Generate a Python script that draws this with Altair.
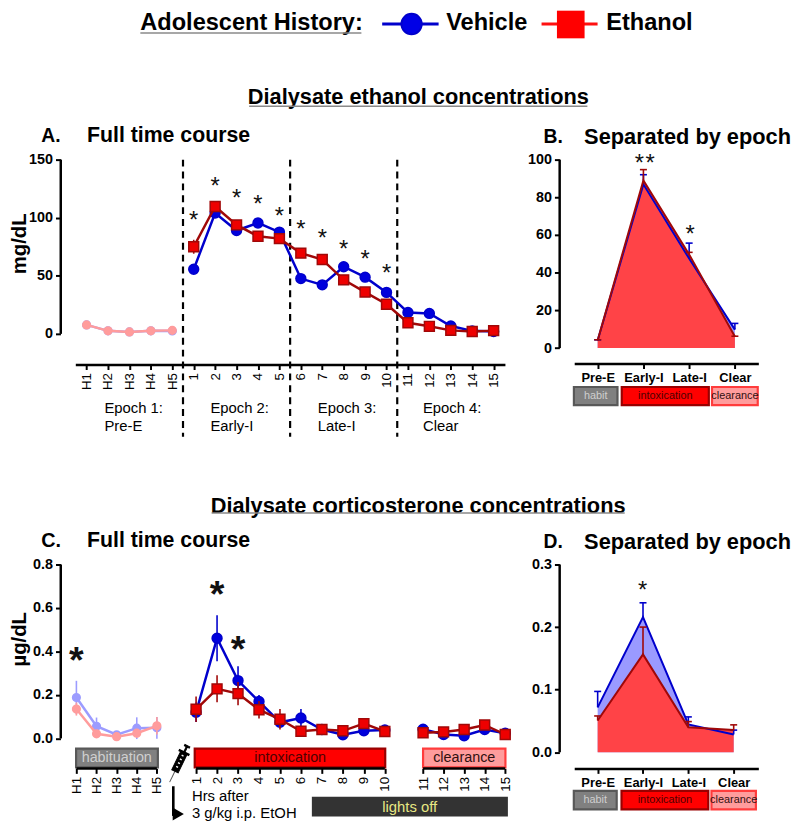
import json
import altair as alt
import pandas as pd

FONT = "Liberation Sans"
BLUE = "#0000CC"
DARKRED = "#A00808"
RED = "#EE0000"
PALE_BLUE = "#9C9CFF"
PALE_RED = "#FF9C9C"

# ---------- data ----------
full_labels = ["H1", "H2", "H3", "H4", "H5"] + [str(i) for i in range(1, 16)]
epoch_labels = ["Pre-E", "Early-I", "Late-I", "Clear"]

a_vehicle = [7.7, 2.6, 1.7, 2.6, 2.5, 55.6, 104, 89, 95.5, 87.6, 47.6, 42.2, 57.8, 48.8, 35.7, 18.4, 17.6, 6.8, 2.6, 2.0]
a_ethanol = [7.7, 2.6, 1.7, 2.6, 3.0, 75, 109.7, 93.8, 84, 82, 69.5, 64, 46.5, 36, 25.5, 9.6, 6.5, 3, 2, 2.8]
a_eth_err = [0, 0, 0, 0, 0, 6, 2, 2, 2, 2, 2, 2, 2, 2, 2, 1, 1, 1, 1, 1]
a_star_x = [5, 6, 7, 8, 9, 10, 11, 12, 13, 14]
a_star_y = [100.4, 130, 119.6, 114, 104, 92.7, 84.8, 75.7, 66.6, 55.3]
a_dividers = [4.5, 9.5, 14.5]
epoch_x = [0.83, 5.78, 10.79, 15.7]
epoch_line1 = ["Epoch 1:", "Epoch 2:", "Epoch 3:", "Epoch 4:"]
epoch_line2 = ["Pre-E", "Early-I", "Late-I", "Clear"]

b_vehicle = [4.2, 86.9, 47.5, 9.8]
b_vehicle_hi = [4.4, 92, 55.7, 13.1]
b_ethanol = [4.2, 89, 49.6, 6.1]
b_ethanol_hi = [4.4, 94.7, 50.8, 6.3]
b_star_x = [0.91, 1.147, 2.02]
b_star_y = [99.5, 99.5, 62.3]

c_vehicle = [0.188, 0.056, 0.017, 0.047, 0.049, 0.12, 0.461, 0.266, 0.17, 0.074, 0.094, 0.041, 0.017, 0.035, 0.039, 0.0425, 0.018, 0.012, 0.041, 0.024]
c_veh_err = [0.077, 0.04, 0.01, 0.05, 0.05, 0.045, 0.106, 0.066, 0.03, 0.02, 0.041, 0.01, 0.01, 0.01, 0.01, 0.01, 0.01, 0.01, 0.01, 0.01]
c_ethanol = [0.135, 0.021, 0.008, 0.024, 0.058, 0.134, 0.228, 0.206, 0.132, 0.088, 0.033, 0.041, 0.035, 0.068, 0.032, 0.026, 0.03, 0.041, 0.062, 0.018]
c_eth_err = [0.03, 0.01, 0.005, 0.02, 0.04, 0.059, 0.062, 0.054, 0.04, 0.047, 0.02, 0.01, 0.01, 0.015, 0.01, 0.01, 0.01, 0.01, 0.01, 0.01]
c_star_x = [0, 6, 7]
c_star_y = [0.378, 0.681, 0.4266]
c_segments_a = [0, 5, 15]
c_segments_b = [4, 14, 19]

d_vehicle = [0.0718, 0.216, 0.0444, 0.0285]
d_vehicle_hi = [0.0972, 0.2388, 0.0565, 0.0354]
d_ethanol = [0.0507, 0.1564, 0.040, 0.0354]
d_ethanol_hi = [0.058, 0.2, 0.049, 0.0438]
d_star_x = [0.99]
d_star_y = [0.2636]

band_names = ["habit", "intoxication", "clearance"]
b_band_a = [-0.52, 0.526, 2.50]
b_band_b = [0.433, 2.43, 3.50]
d_band_a = [-0.526, 0.526, 2.51]
d_band_b = [0.42, 2.44, 3.49]
c_band_names = ["habituation", "intoxication", "clearance"]
c_band_a = [-0.015, 4.965, 15.0]
c_band_b = [4.025, 14.01, 19.01]
lights_a = [10.52]
lights_b = [19.13]

BAND_STYLE = [
    {"fill": "#808080", "stroke": "#585858", "text": "#CFCFCF"},
    {"fill": "#FF0000", "stroke": "#990000", "text": "#4E0000"},
    {"fill": "#FF9C9C", "stroke": "#FF3C3C", "text": "#301010"},
]


# ---------- helpers ----------
def note(text, x, y, size, weight="normal", color="black", align="left", angle=0):
    return (
        alt.Chart(alt.Data(values=[{"t": text}]))
        .mark_text(font=FONT, fontSize=size, fontWeight=weight, color=color, align=align,
                   baseline="middle", angle=angle)
        .encode(text="t:N", x=alt.value(x), y=alt.value(y))
    )


def underline(x1, x2, y):
    return (
        alt.Chart(alt.Data(values=[{"t": 1}]))
        .mark_rule(color="#8A8A8A", strokeWidth=1.6)
        .encode(x=alt.value(x1), x2=alt.value(x2), y=alt.value(y))
    )


def axis_y(vals, title=None, fmt=None, size=14.5, offset=15, **kw):
    args = dict(values=vals, domain=False, grid=False, offset=offset, tickSize=5, tickWidth=2,
                tickColor="black", labelFontSize=size, labelFontWeight="bold", labelColor="black",
                labelPadding=3, labelFont=FONT, title=title)
    if fmt:
        args["format"] = fmt
    args.update(kw)
    return alt.Axis(**args)


def axis_x_full(labels, **kw):
    return alt.Axis(values=list(range(len(labels))), labelExpr=f"{json.dumps(labels)}[datum.value]",
                    labelAngle=270, labelAlign="right", labelBaseline="middle", labelFontSize=13.5,
                    labelColor="black", labelFont=FONT, labelPadding=3, tickSize=5, tickWidth=2,
                    tickColor="black", grid=False, title=None, labelOverlap=False, labelFlush=False, **kw)


def axis_x_epoch():
    return alt.Axis(values=[0, 1, 2, 3], labelExpr=f"{json.dumps(epoch_labels)}[datum.value]",
                    labelAngle=0, labelFontSize=13, labelFontWeight="bold", labelColor="black",
                    labelFont=FONT, labelPadding=3, tickSize=5, tickWidth=2, tickColor="black",
                    domainColor="black", domainWidth=2.5, grid=False, title=None, labelOverlap=False,
                    labelFlush=False)


def series_frame(x, v, err=None):
    df = pd.DataFrame({"x": x, "v": v})
    if err is not None:
        df["lo"] = [a - b for a, b in zip(v, err)]
        df["hi"] = [a + b for a, b in zip(v, err)]
    return df


def trace(df, X, Y_sc, line, fill, stroke, shape, size, width=2.5, groups=None):
    Y = alt.Y("v:Q", scale=Y_sc, axis=None)
    enc = {"x": X, "y": Y}
    if groups is not None:
        enc["detail"] = groups
    out = []
    if "lo" in df:
        out.append(alt.Chart(df).mark_rule(color=line, strokeWidth=1.6).encode(
            x=X, y=alt.Y("lo:Q", scale=Y_sc, axis=None), y2=alt.Y2("hi:Q")))
    out.append(alt.Chart(df).mark_line(color=line, strokeWidth=width).encode(**enc))
    out.append(alt.Chart(df).mark_point(shape=shape, size=size, filled=True, fill=fill, stroke=stroke,
                                        strokeWidth=1.5, opacity=1).encode(x=X, y=Y))
    return out


def stars(xs, ys, X_sc, Y_sc, size, dy, weight="normal"):
    df = pd.DataFrame({"x": xs, "v": ys})
    return alt.Chart(df).mark_text(text="*", font=FONT, fontSize=size, fontWeight=weight, dy=dy,
                                   color="#111111", baseline="alphabetic").encode(
        x=alt.X("x:Q", scale=X_sc, axis=None), y=alt.Y("v:Q", scale=Y_sc, axis=None))


def axis_rule(lo, hi, Y_sc, xpos):
    df = pd.DataFrame({"lo": [lo], "hi": [hi]})
    return alt.Chart(df).mark_rule(color="black", strokeWidth=2.5).encode(
        x=alt.value(xpos), y=alt.Y("lo:Q", scale=Y_sc, axis=None), y2=alt.Y2("hi:Q"))


def bands(names, starts, ends, X_sc, y1, y2, size, stroke_width=2.2):
    out = []
    for n, a, b, st in zip(names, starts, ends, BAND_STYLE):
        df = pd.DataFrame({"a": [a], "b": [b], "m": [(a + b) / 2], "n": [n]})
        out.append(alt.Chart(df).mark_rect(fill=st["fill"], stroke=st["stroke"], strokeWidth=stroke_width).encode(
            x=alt.X("a:Q", scale=X_sc, axis=None), x2=alt.X2("b:Q"), y=alt.value(y1), y2=alt.value(y2)))
        out.append(alt.Chart(df).mark_text(font=FONT, fontSize=size, color=st["text"]).encode(
            x=alt.X("m:Q", scale=X_sc, axis=None), y=alt.value((y1 + y2) / 2), text="n:N"))
    return out


def epoch_panel(veh, veh_hi, eth, eth_hi, X_sc, Y_sc, y_axis, ylo, yhi, star_x, star_y, names, a, b, y1, y2, letter, title_y):
    X_first = alt.X("x:Q", scale=X_sc, axis=axis_x_epoch())
    X = alt.X("x:Q", scale=X_sc, axis=None)
    Y_first = alt.Y("v:Q", scale=Y_sc, axis=y_axis)
    Y = alt.Y("v:Q", scale=Y_sc, axis=None)
    base_df = pd.DataFrame({"x": [0, 1, 2, 3], "v": veh, "z": [0, 0, 0, 0]})
    base_de = pd.DataFrame({"x": [0, 1, 2, 3], "v": eth, "z": [0, 0, 0, 0]})
    layers = [
        alt.Chart(base_df).mark_area(color="#9A9AFF", opacity=1).encode(x=X_first, y=Y_first, y2=alt.Y2("z:Q")),
        alt.Chart(base_de).mark_area(color="#FF4347", opacity=1).encode(x=X, y=Y, y2=alt.Y2("z:Q")),
        axis_rule(ylo, yhi, Y_sc, -14.7),
    ]
    for v, hi, col in ((veh, veh_hi, BLUE), (eth, eth_hi, DARKRED)):
        df = pd.DataFrame({"x": [0, 1, 2, 3], "v": v, "hi": hi})
        layers.append(alt.Chart(df).mark_rule(color=col, strokeWidth=1.6).encode(x=X, y=Y, y2=alt.Y2("hi:Q")))
        layers.append(alt.Chart(df).mark_point(shape="stroke", size=50, color=col, strokeWidth=1.6, opacity=1).encode(
            x=X, y=alt.Y("hi:Q", scale=Y_sc, axis=None)))
        layers.append(alt.Chart(df).mark_line(color=col, strokeWidth=2).encode(x=X, y=Y))
    layers.append(stars(star_x, star_y, X_sc, Y_sc, 24, 11))
    layers += bands(names, a, b, X_sc, y1, y2, 11)
    layers.append(note(letter, -31, title_y, 19.5, "bold"))
    layers.append(note("Separated by epoch", 10, title_y, 22, "bold"))
    return alt.layer(*layers).resolve_axis(x="independent", y="independent").properties(width=186, height=206)


# ---------- panel A ----------
XA = alt.Scale(domain=[-0.527, 19.527], nice=False, zero=False)
YA = alt.Scale(domain=[-26.4, 150], nice=False, zero=False)
X_A0 = alt.X("x:Q", scale=XA, axis=axis_x_full(full_labels, domainColor="black", domainWidth=2.5))
X_A = alt.X("x:Q", scale=XA, axis=None)
Y_A0 = alt.Y("v:Q", scale=YA, axis=axis_y([0, 50, 100, 150], title="mg/dL", titleFontSize=20.5, titleFontWeight="bold",
                                          titleFont=FONT, titleColor="black", titleX=-41, titleY=84.5,
                                          titleAngle=270, titleAlign="center", titleBaseline="middle"))

idx = list(range(20))
a_veh_df = series_frame(idx, a_vehicle)
a_eth_df = series_frame(idx, a_ethanol, err=a_eth_err)

div_df = pd.DataFrame({"x": a_dividers})
ep_df = pd.DataFrame({"x": epoch_x, "l1": epoch_line1, "l2": epoch_line2})

a_layers = [
    alt.Chart(a_veh_df).mark_point(opacity=0).encode(x=X_A0, y=Y_A0),
    axis_rule(0, 150, YA, -14.7),
    alt.Chart(div_df).mark_rule(color="black", strokeWidth=2.2, strokeDash=[7, 5]).encode(
        x=X_A, y=alt.value(0), y2=alt.value(280)),
]
a_layers += trace(a_veh_df.iloc[:5], X_A, YA, PALE_BLUE, PALE_BLUE, PALE_BLUE, "circle", 60)
a_layers += trace(a_eth_df.iloc[:5].drop(columns=["lo", "hi"]), X_A, YA, PALE_RED, PALE_RED, PALE_RED, "circle", 60)
a_layers += trace(a_veh_df.iloc[5:], X_A, YA, BLUE, "#0000DD", BLUE, "circle", 100)
a_layers += trace(a_eth_df.iloc[5:], X_A, YA, DARKRED, RED, DARKRED, "square", 100)
a_layers.append(stars(a_star_x, a_star_y, XA, YA, 24, 11))
a_layers.append(alt.Chart(ep_df).mark_text(font=FONT, fontSize=15, align="left").encode(
    x=X_A, y=alt.value(251), text="l1:N"))
a_layers.append(alt.Chart(ep_df).mark_text(font=FONT, fontSize=15, align="left").encode(
    x=X_A, y=alt.value(269), text="l2:N"))

# header, legend and section title live above panel A
ox, oy = 75, 158
a_layers += [
    note("Adolescent History:", 140.7 - ox, 20 - oy, 23.8, "bold"),
    underline(140.7 - ox, 364 - ox, 30 - oy),
    alt.Chart(alt.Data(values=[{"t": 1}])).mark_rule(color=BLUE, strokeWidth=3).encode(
        x=alt.value(385 - ox), x2=alt.value(442 - ox), y=alt.value(21 - oy)),
    alt.Chart(alt.Data(values=[{"t": 1}])).mark_point(shape="circle", size=420, filled=True, fill="#0000E6", stroke=BLUE, opacity=1).encode(
        x=alt.value(414.7 - ox), y=alt.value(21 - oy)),
    note("Vehicle", 449.6 - ox, 20 - oy, 23.8, "bold"),
    alt.Chart(alt.Data(values=[{"t": 1}])).mark_rule(color="#FF1010", strokeWidth=3).encode(
        x=alt.value(546 - ox), x2=alt.value(602.6 - ox), y=alt.value(21 - oy)),
    alt.Chart(alt.Data(values=[{"t": 1}])).mark_point(shape="square", size=780, filled=True, fill="#FF0000", opacity=1, strokeWidth=0).encode(
        x=alt.value(575.5 - ox), y=alt.value(21.5 - oy)),
    note("Ethanol", 611.4 - ox, 20 - oy, 23.8, "bold"),
    note("Dialysate ethanol concentrations", 421.5 - ox, 95 - oy, 22, "bold", align="center"),
    underline(250.6 - ox, 592.3 - ox, 104 - oy),
    note("A.", 40.6 - ox, 134 - oy, 19.5, "bold"),
    note("Full time course", 86.8 - ox, 134 - oy, 21.5, "bold"),
]
panel_a = alt.layer(*a_layers).resolve_axis(x="independent", y="independent").properties(width=434, height=207)

# ---------- panel B ----------
XB = alt.Scale(domain=[-0.513, 3.513], nice=False, zero=False)
YB = alt.Scale(domain=[-8.2, 100], nice=False, zero=False)
panel_b = epoch_panel(b_vehicle, b_vehicle_hi, b_ethanol, b_ethanol_hi, XB, YB,
                      axis_y([0, 20, 40, 60, 80, 100]), 0, 100, b_star_x, b_star_y,
                      band_names, b_band_a, b_band_b, 229.7, 248, "B.", -23)

# ---------- panel C ----------
XC = alt.Scale(domain=[0, 4, 5, 14, 15, 19], range=[1.1, 82.4, 122, 312.7, 351.3, 434.3], nice=False, zero=False)
YC = alt.Scale(domain=[-0.138, 0.8], nice=False, zero=False)
X_C0 = alt.X("x:Q", scale=XC, axis=axis_x_full(full_labels, domain=False))
X_C = alt.X("x:Q", scale=XC, axis=None)
Y_C0 = alt.Y("v:Q", scale=YC, axis=axis_y([0, 0.2, 0.4, 0.6, 0.8], fmt=".1f", title="µg/dL", titleFontSize=20.5, titleFontWeight="bold",
                                          titleFont=FONT, titleColor="black", titleX=-41, titleY=75,
                                          titleAngle=270, titleAlign="center", titleBaseline="middle"))

c_group = [0] * 5 + [1] * 10 + [2] * 5
c_veh = series_frame(idx, c_vehicle, err=c_veh_err)
c_eth = series_frame(idx, c_ethanol, err=c_eth_err)
c_veh["g"] = c_group
c_eth["g"] = c_group
seg_df = pd.DataFrame({"a": c_segments_a, "b": c_segments_b})
lights_df = pd.DataFrame({"a": lights_a, "b": lights_b, "n": ["lights off"], "m": [14.65]})

SYRINGE_BODY = "M-0.17,-0.6 L0.17,-0.6 L0.17,0.42 L-0.17,0.42 Z M-0.03,-0.6 L0.03,-0.6 L0.03,-0.92 L-0.03,-0.92 Z M-0.13,-0.95 L0.13,-0.95 L0.13,-0.88 L-0.13,-0.88 Z M-0.26,-0.62 L0.26,-0.62 L0.26,-0.55 L-0.26,-0.55 Z"
SYRINGE_WHITE = "M-0.05,-0.42 L0.05,-0.42 M-0.05,-0.22 L0.05,-0.22 M-0.05,-0.02 L0.05,-0.02 M-0.05,0.18 L0.05,0.18"
SYRINGE_NEEDLE = "M0,0.42 L0,1"
one = alt.Data(values=[{"t": 1}])
oxc, oyc = 75, 564
c_layers = [
    alt.Chart(c_veh).mark_point(opacity=0).encode(x=X_C0, y=Y_C0),
    axis_rule(0, 0.8, YC, -14.7),
]
c_layers += bands(c_band_names, c_band_a, c_band_b, XC, 186, 205, 14.5)
c_layers.append(alt.Chart(seg_df).mark_rule(color="black", strokeWidth=2.5).encode(
    x=alt.X("a:Q", scale=XC, axis=None), x2=alt.X2("b:Q"), y=alt.value(206)))
c_layers += trace(c_veh.iloc[:5], X_C, YC, PALE_BLUE, PALE_BLUE, PALE_BLUE, "circle", 60)
c_layers += trace(c_eth.iloc[:5], X_C, YC, PALE_RED, PALE_RED, PALE_RED, "circle", 60)
c_layers += trace(c_veh.iloc[5:], X_C, YC, BLUE, "#0000DD", BLUE, "circle", 100, groups="g:N")
c_layers += trace(c_eth.iloc[5:], X_C, YC, DARKRED, RED, DARKRED, "square", 100, groups="g:N")
c_layers.append(stars(c_star_x, c_star_y, XC, YC, 38, 17, "bold"))
c_layers += [
    alt.Chart(lights_df).mark_rect(fill="#333333").encode(
        x=alt.X("a:Q", scale=XC, axis=None), x2=alt.X2("b:Q"), y=alt.value(234.7), y2=alt.value(254.7)),
    alt.Chart(lights_df).mark_text(font=FONT, fontSize=15, color="#E8E884").encode(
        x=alt.X("m:Q", scale=XC, axis=None), y=alt.value(244.7), text="n:N"),
    note("Hrs after", 192.8 - oxc, 798 - oyc, 15),
    note("3 g/kg i.p. EtOH", 192.8 - oxc, 815.5 - oyc, 15),
    alt.Chart(one).mark_rule(color="black", strokeWidth=2.6).encode(
        x=alt.value(174 - oxc), y=alt.value(788 - oyc), y2=alt.value(818 - oyc)),
    alt.Chart(one).mark_point(shape="triangle-right", size=170, filled=True, fill="black", opacity=1).encode(
        x=alt.value(179 - oxc), y=alt.value(816 - oyc)),
    alt.Chart(one).mark_point(shape=SYRINGE_NEEDLE, size=1764, angle=26, stroke="#555555", strokeWidth=1, opacity=1, filled=False).encode(
        x=alt.value(179.5 - oxc), y=alt.value(765 - oyc)),
    alt.Chart(one).mark_point(shape=SYRINGE_BODY, size=1764, angle=26, fill="black", stroke="black", strokeWidth=1, opacity=1, filled=True).encode(
        x=alt.value(179.5 - oxc), y=alt.value(765 - oyc)),
    alt.Chart(one).mark_point(shape=SYRINGE_WHITE, size=1764, angle=26, stroke="white", strokeWidth=1.4, opacity=1, filled=False).encode(
        x=alt.value(179.5 - oxc), y=alt.value(765 - oyc)),
    note("Dialysate corticosterone concentrations", 421.3 - oxc, 505 - oyc, 22, "bold", align="center"),
    underline(212.7 - oxc, 630 - oxc, 512 - oyc),
    note("C.", 40.6 - oxc, 540 - oyc, 20, "bold"),
    note("Full time course", 86.8 - oxc, 540 - oyc, 21.5, "bold"),
]
panel_c = alt.layer(*c_layers).resolve_axis(x="independent", y="independent").properties(width=434, height=206)

# ---------- panel D ----------
XD = alt.Scale(domain=[-0.517, 3.544], nice=False, zero=False)
YD = alt.Scale(domain=[-0.0258, 0.3], nice=False, zero=False)
panel_d = epoch_panel(d_vehicle, d_vehicle_hi, d_ethanol, d_ethanol_hi, XD, YD,
                      axis_y([0, 0.1, 0.2, 0.3], fmt=".1f"), 0, 0.3, d_star_x, d_star_y,
                      band_names, d_band_a, d_band_b, 228.7, 247.3, "D.", -23)

chart = (
    alt.concat(panel_a, panel_b, panel_c, panel_d, columns=2,
               spacing={"row": 202, "column": 70}, bounds="flush")
    .properties(padding={"left": 2, "top": -3, "right": 0, "bottom": 0})
    .configure(font=FONT)
    .configure_view(stroke=None)
)
chart.save("out.html", embed_options={"renderer": "svg", "actions": False})
